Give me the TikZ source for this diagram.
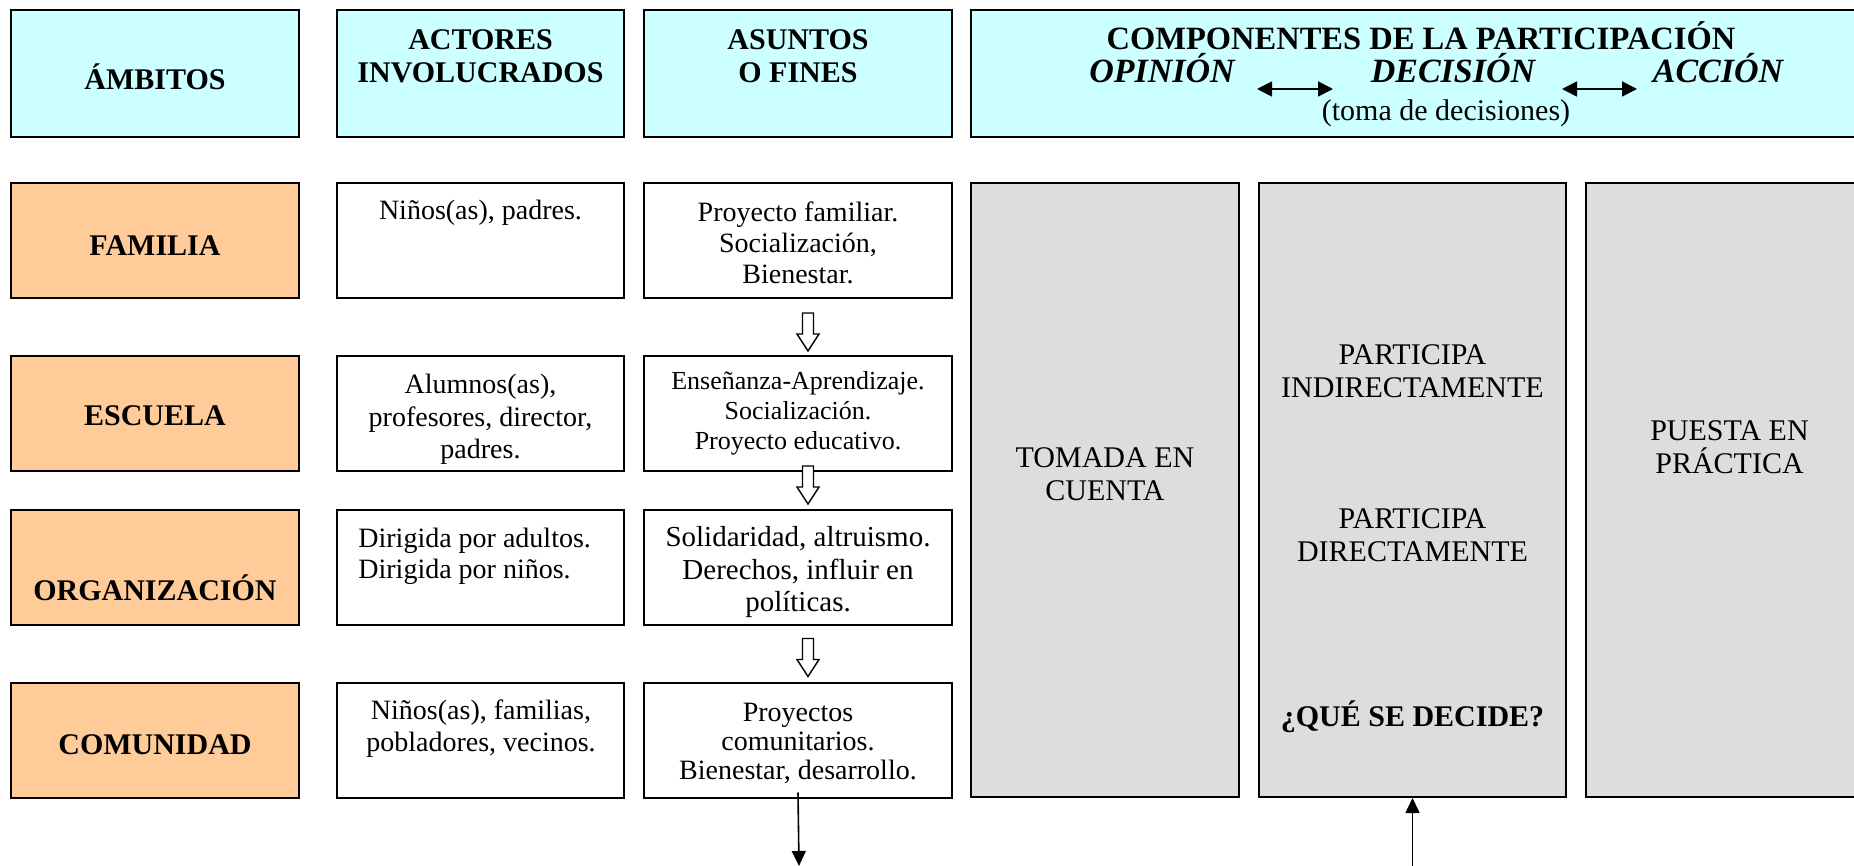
\documentclass[tikz,border=0pt]{standalone}
\usepackage{fontspec}
\setmainfont{Liberation Serif}
\usetikzlibrary{arrows.meta, calc}

\definecolor{celeste}{HTML}{CCFFFF}
\definecolor{naranja}{HTML}{FFCC99}
\definecolor{gris}{HTML}{DDDDDD}

\tikzset{
  caja/.style={draw, line width=1pt, inner sep=0pt},
  enc/.style={caja, fill=celeste, minimum height=63.5pt},
  ambito/.style={caja, fill=naranja, minimum width=144pt, minimum height=57.5pt},
  actor/.style={caja, fill=white, minimum width=143.5pt, minimum height=57.5pt},
  asunto/.style={caja, fill=white, minimum width=154pt, minimum height=57.5pt},
  columna/.style={caja, fill=gris, minimum height=307pt},
  cabeza/.style={font=\fontsize{15}{16.5}\selectfont\bfseries, align=center, inner sep=0pt},
  cursiva/.style={font=\fontsize{17}{18}\selectfont\bfseries\itshape, inner sep=0pt},
  texto/.style={font=\fontsize{14}{16.5}\selectfont, align=center, inner sep=0pt},
  gristxt/.style={texto, font=\fontsize{15}{16.5}\selectfont},
  doble/.style={{Triangle[length=7.5pt,width=7.5pt]}-{Triangle[length=7.5pt,width=7.5pt]}, line width=0.9pt},
  flecha/.style={-{Triangle[length=7.5pt,width=7pt]}, line width=0.8pt},
  pics/hueca/.style={code={
    \draw[line width=0.7pt, fill=white] (-5.5,0) -- (5.5,0) -- (5.5,21) -- (11,21)
      -- (0,38) -- (-11,21) -- (-5.5,21) -- cycle;}}
}

\begin{document}
\begin{tikzpicture}[x=0.5pt, y=-0.5pt]
\useasboundingbox (0,0) rectangle (1854,866);
%Encabezados
\node[enc, minimum width=144pt] (amb) at (155,73.5) {};
\node[enc, minimum width=143.5pt] (act) at (480.5,73.5) {};
\node[enc, minimum width=154pt] (asu) at (798,73.5) {};
\node[enc, minimum width=454.5pt] (comp) at (1425.5,73.5) {};
\node[cabeza, anchor=base] (tamb) at (155,90) {ÁMBITOS};
\node[cabeza, anchor=north] (tact) at (480.5,29) {ACTORES\\INVOLUCRADOS};
\node[cabeza, anchor=north] (tasu) at (798,29) {ASUNTOS\\O FINES};
\node[cabeza, anchor=base, font=\fontsize{16.25}{17}\selectfont\bfseries] (tcomp) at (1421,50)
  {COMPONENTES DE LA PARTICIPACIÓN};
\node[cursiva, anchor=base] (op) at (1162,83) {OPINIÓN};
\node[cursiva, anchor=base] (dec) at (1453,83) {DECISIÓN};
\node[cursiva, anchor=base] (acc) at (1718,83) {ACCIÓN};
\node[texto, font=\fontsize{15}{16.5}\selectfont, anchor=base] (toma) at (1446,121) {(toma de decisiones)};
\coordinate (f1a) at (1257,89);
\coordinate (f1b) at (1333,89);
\coordinate (f2a) at (1562,89);
\coordinate (f2b) at (1637,89);
\draw[doble] (f1a) -- (f1b);
\draw[doble] (f2a) -- (f2b);

%Ambitos, actores y asuntos
\node[ambito] (fam) at (155,240.5) {};
\node[ambito] (esc) at (155,413.5) {};
\node[ambito] (org) at (155,567) {};
\node[ambito] (com) at (155,740) {};
\node[actor] (act1) at (480.5,240.5) {};
\node[actor] (act2) at (480.5,413.5) {};
\node[actor] (act3) at (480.5,567) {};
\node[actor] (act4) at (480.5,740) {};
\node[asunto] (asu1) at (798,240.5) {};
\node[asunto] (asu2) at (798,413.5) {};
\node[asunto] (asu3) at (798,567) {};
\node[asunto] (asu4) at (798,740) {};

\node[cabeza, anchor=base] (tfam) at (155,256) {FAMILIA};
\node[cabeza, anchor=base] (tesc) at (155,425) {ESCUELA};
\node[cabeza, anchor=base] (torg) at (155,600) {ORGANIZACIÓN};
\node[cabeza, anchor=base] (tcom) at (155,754) {COMUNIDAD};

\node[texto, anchor=base] (tact1) at (480.5,220) {Niños(as), padres.};
\node[texto, anchor=north, font=\fontsize{14}{16.25}\selectfont] (tact2) at (480.5,374)
  {Alumnos(as),\\profesores, director,\\padres.};
\node[texto, anchor=north west, align=left, font=\fontsize{14}{15.5}\selectfont] (tact3) at (358,528)
  {Dirigida por adultos.\\Dirigida por niños.};
\node[texto, anchor=north, font=\fontsize{14}{16}\selectfont] (tact4) at (481,699)
  {Niños(as), familias,\\pobladores, vecinos.};

\node[texto, anchor=north, font=\fontsize{14}{15.5}\selectfont] (tasu1) at (798,201)
  {Proyecto familiar.\\Socialización,\\Bienestar.};
\node[texto, anchor=north, font=\fontsize{13}{15}\selectfont] (tasu2) at (798,371)
  {Enseñanza-Aprendizaje.\\Socialización.\\Proyecto educativo.};
\node[texto, anchor=north, font=\fontsize{14.5}{16.25}\selectfont] (tasu3) at (798,526)
  {Solidaridad, altruismo.\\Derechos, influir en\\políticas.};
\node[texto, anchor=north, font=\fontsize{14}{14.5}\selectfont] (tasu4) at (798,703)
  {Proyectos\\comunitarios.\\Bienestar, desarrollo.};

%flechas huecas entre asuntos
\pic at ($(asu1.south)+(10,14)$) {hueca};
\pic at ($(asu2.south)+(10,-6)$) {hueca};
\pic at ($(asu3.south)+(10,13)$) {hueca};

%Componentes
\node[columna, minimum width=134pt] (tom) at (1105,490) {};
\node[columna, minimum width=153.5pt] (par) at (1412.5,490) {};
\node[columna, minimum width=143.5pt] (pue) at (1729.5,490) {};
\node[gristxt, anchor=north] (ttom) at (1105,447) {TOMADA EN\\CUENTA};
\node[gristxt, anchor=north] (tind) at (1412.5,344) {PARTICIPA\\INDIRECTAMENTE};
\node[gristxt, anchor=north] (tdir) at (1412.5,508) {PARTICIPA\\DIRECTAMENTE};
\node[cabeza, anchor=base] (tque) at (1412.5,726) {¿QUÉ SE DECIDE?};
\node[gristxt, anchor=north] (tpue) at (1729.5,420) {PUESTA EN\\PRÁCTICA};

%flechas de salida y entrada
\coordinate (salida) at (799,866);
\coordinate (entrada) at (1412.5,866);
\draw[flecha] ([yshift=3pt]asu4.south) -- (salida);
\draw[flecha] (entrada) -- (par.south);
\end{tikzpicture}
\end{document}
